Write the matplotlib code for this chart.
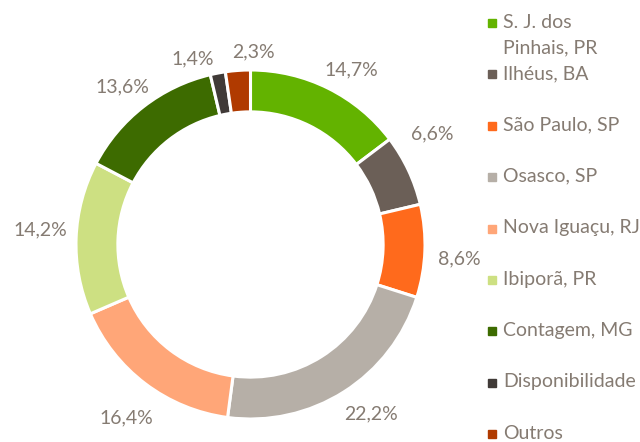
import numpy as np
import matplotlib.pyplot as plt
from matplotlib.patches import Rectangle

plt.rcParams['font.family'] = ['Lato', 'DejaVu Sans']

categories = ['S. J. dos\nPinhais, PR', 'Ilhéus, BA', 'São Paulo, SP', 'Osasco, SP',
              'Nova Iguaçu, RJ', 'Ibiporã, PR', 'Contagem, MG', 'Disponibilidade', 'Outros']
shares = [14.7, 6.6, 8.6, 22.2, 16.4, 14.2, 13.6, 1.4, 2.3]
colors = ['#63b300', '#6b5f57', '#ff6a1c', '#b6afa7', '#ffa678',
          '#cde082', '#3d6b00', '#403a37', '#b03a00']
text_color = '#857b72'

# pixel nudges of the data labels (Excel's best-fit placement)
label_nudge = [(8, 11), (-6, -22), (1, 7), (9, -6), (1, 8),
               (-3, -7), (-1, 6), (-19, 18), (18, 14)]

W, H = 640, 442
fig = plt.figure(figsize=(W / 100, H / 100), dpi=100)
cx, cy, r = 250.5, 244.5, 174.5
ax = fig.add_axes([(cx - r) / W, (H - cy - r) / H, 2 * r / W, 2 * r / H])

wedges, _ = ax.pie(shares, colors=colors, startangle=90, counterclock=False,
                   wedgeprops=dict(width=0.24, edgecolor='white', linewidth=2.2))
for w, v, (dx, dy) in zip(wedges, shares, label_nudge):
    ang = np.deg2rad((w.theta1 + w.theta2) / 2)
    d = 1.19
    ax.annotate(f'{v:.1f}%'.replace('.', ','), (d * np.cos(ang), d * np.sin(ang)),
                xytext=(dx, -dy), textcoords='offset pixels',
                ha='center', va='center', color=text_color, fontsize=14,
                annotation_clip=False)
ax.set_xlim(-1, 1)
ax.set_ylim(-1, 1)
ax.set_aspect('equal')

# legend drawn by hand to mimic the fixed slot spacing
x0, y0, step, line_h = 492, 23, 51.4, 25.5
for i, (name, c) in enumerate(zip(categories, colors)):
    y = y0 + i * step
    fig.patches.append(Rectangle(((x0 - 4) / W, 1 - (y + 4) / H), 8 / W, 8 / H,
                                 transform=fig.transFigure, color=c))
    for k, line in enumerate(name.split('\n')):
        fig.text((x0 + 11) / W, 1 - (y - 1 + k * line_h) / H, line,
                 color=text_color, fontsize=14, ha='left', va='center')

fig.savefig('out.png', dpi=100)
